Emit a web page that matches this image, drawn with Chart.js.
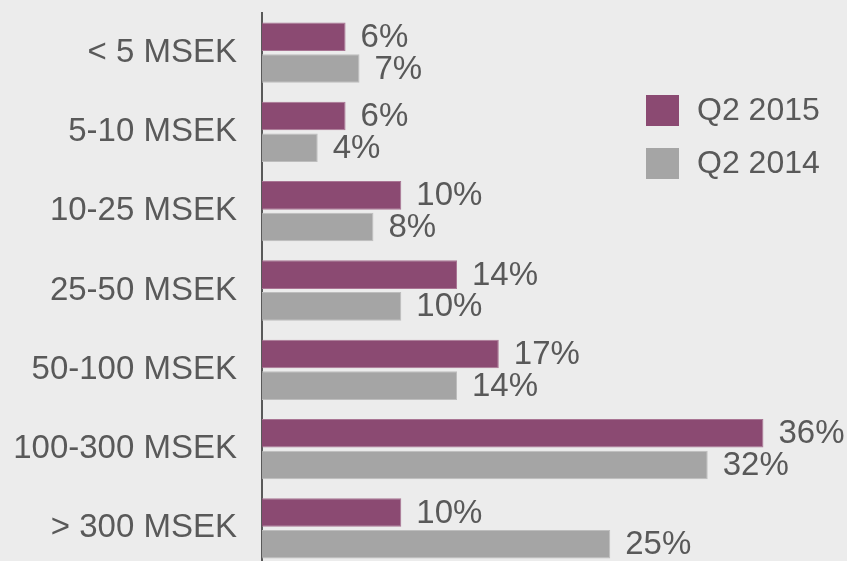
<!DOCTYPE html>
<html>
<head>
<meta charset="utf-8">
<script src="https://cdn.jsdelivr.net/npm/chart.js@4"></script>
<style>
  html, body { margin: 0; padding: 0; background: #ececec; overflow: hidden; }
  #wrap { width: 847px; height: 561px; overflow: hidden; }
</style>
</head>
<body>
<div id="wrap"><canvas id="chart" width="847" height="568"></canvas></div>
<script>
// chart data
const categories = ['< 5 MSEK', '5-10 MSEK', '10-25 MSEK', '25-50 MSEK', '50-100 MSEK', '100-300 MSEK', '> 300 MSEK'];
const seriesNames = ['Q2 2015', 'Q2 2014'];
const q2_2015 = [6, 6, 10, 14, 17, 36, 10];
const q2_2014 = [7, 4, 8, 10, 14, 32, 25];

const textColor = '#595959';
const fontFamily = '"Liberation Sans", Arial, sans-serif';

// value labels at the end of each bar
const barLabels = {
    id: 'barLabels',
    afterDatasetsDraw(chart) {
        const ctx = chart.ctx;
        ctx.save();
        ctx.font = '33px ' + fontFamily;
        ctx.fillStyle = textColor;
        ctx.textAlign = 'left';
        ctx.textBaseline = 'middle';
        chart.data.datasets.forEach((ds, i) => {
            chart.getDatasetMeta(i).data.forEach((bar, j) => {
                ctx.fillText(ds.data[j] + '%', bar.x + 15, bar.y + 1);
            });
        });
        ctx.restore();
    }
};

// legend drawn on the right
const sideLegend = {
    id: 'sideLegend',
    afterDraw(chart) {
        const ctx = chart.ctx;
        ctx.save();
        ctx.font = '32px ' + fontFamily;
        ctx.textAlign = 'left';
        ctx.textBaseline = 'middle';
        chart.data.datasets.forEach((ds, i) => {
            const y = 95 + i * 53;
            ctx.fillStyle = ds.backgroundColor;
            ctx.fillRect(646, y, 33, 31);
            ctx.fillStyle = textColor;
            ctx.fillText(ds.label, 697, y + 16);
        });
        ctx.restore();
    }
};

new Chart(document.getElementById('chart'), {
    type: 'bar',
    data: {
        labels: categories,
        datasets: [{
            label: seriesNames[0],
            data: q2_2015,
            backgroundColor: '#8b4a72',
            borderColor: '#a97594',
            borderWidth: 1,
            categoryPercentage: 0.8,
            barPercentage: 0.9
        }, {
            label: seriesNames[1],
            data: q2_2014,
            backgroundColor: '#a5a5a5',
            borderColor: '#bdbdbd',
            borderWidth: 1,
            categoryPercentage: 0.8,
            barPercentage: 0.9
        }]
    },
    options: {
        indexAxis: 'y',
        responsive: false,
        animation: false,
        layout: { padding: { top: 13, right: 0, bottom: 0, left: 0 } },
        plugins: {
            legend: { display: false },
            tooltip: { enabled: false }
        },
        scales: {
            x: { display: false, min: 0, max: 42 },
            y: {
                grid: { display: false, drawTicks: false },
                border: { display: true, color: textColor, width: 2 },
                ticks: {
                    color: textColor,
                    font: { family: fontFamily, size: 33 },
                    padding: 25
                },
                afterFit(scale) {
                    scale.width = 262;
                    scale.paddingTop = 0;
                    scale.paddingBottom = 0;
                }
            }
        }
    },
    plugins: [barLabels, sideLegend]
});
</script>
</body>
</html>
